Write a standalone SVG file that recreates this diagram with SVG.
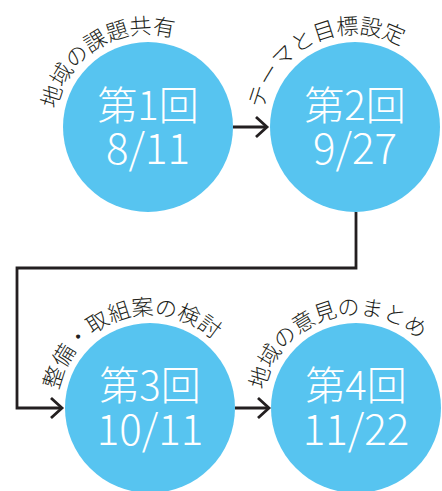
<svg xmlns="http://www.w3.org/2000/svg" width="442" height="491" viewBox="0 0 442 491">
<style>
.node circle{fill:#57c4f0}
.big{font-family:"Noto Sans CJK JP","Noto Sans",sans-serif;font-size:40px;font-weight:300;fill:#fff;text-anchor:middle}
.date{font-size:42px}
.arc{font-family:"Noto Sans CJK JP",sans-serif;font-size:22px;font-weight:300;fill:#231f20}
.conn{fill:none;stroke:#231f20;stroke-width:2.8}
</style>
<defs>
<marker id="arr" markerUnits="userSpaceOnUse" viewBox="0 0 16 26" markerWidth="16" markerHeight="26" refX="13" refY="13" orient="auto">
<path d="M2 3 L13 13 L2 23" fill="none" stroke="#231f20" stroke-width="2.8"/>
</marker>
<path id="p1" d="M56.7 109.3 A93 93 0 0 1 239.3 109.3"/>
<path id="p2" d="M263.7 109.3 A93 93 0 0 1 446.3 109.3"/>
<path id="p3" d="M58.7 390.3 A93 93 0 0 1 241.3 390.3"/>
<path id="p4" d="M264.7 390.3 A93 93 0 0 1 447.3 390.3"/>
</defs>
<g id="connectors">
<path class="conn" d="M233 127 H267" marker-end="url(#arr)"/>
<path class="conn" d="M356 212 V268 H17 V408 H62" marker-end="url(#arr)"/>
<path class="conn" d="M235 408 H269" marker-end="url(#arr)"/>
</g>
<g id="node1" class="node">
<circle cx="148" cy="127" r="85"/>
<text class="big" x="148" y="120">第1回</text>
<text class="big date" x="148" y="164">8/11</text>
<text class="arc"><textPath href="#p1">地域の課題共有</textPath></text>
</g>
<g id="node2" class="node">
<circle cx="355" cy="127" r="85"/>
<text class="big" x="355" y="120">第2回</text>
<text class="big date" x="355" y="164">9/27</text>
<text class="arc"><textPath href="#p2">テーマと目標設定</textPath></text>
</g>
<g id="node3" class="node">
<circle cx="150" cy="408" r="85"/>
<text class="big" x="150" y="400">第3回</text>
<text class="big date" x="150" y="445">10/11</text>
<text class="arc"><textPath href="#p3">整備・取組案の検討</textPath></text>
</g>
<g id="node4" class="node">
<circle cx="356" cy="408" r="85"/>
<text class="big" x="356" y="400">第4回</text>
<text class="big date" x="356" y="445">11/22</text>
<text class="arc"><textPath href="#p4">地域の意見のまとめ</textPath></text>
</g>
</svg>
